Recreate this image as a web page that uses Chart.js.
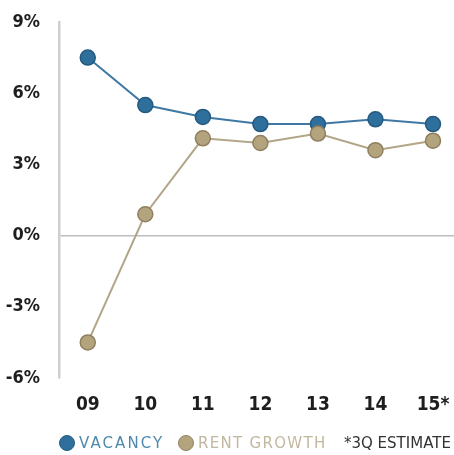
<!DOCTYPE html>
<html>
<head>
<meta charset="utf-8">
<script src="https://cdn.jsdelivr.net/npm/chart.js@4.4.1/dist/chart.umd.min.js"></script>
<style>
  html, body { margin: 0; padding: 0; background: #ffffff; }
  #wrap { position: relative; width: 454px; height: 455px; }
  #chart { position: absolute; left: 0; top: 0; }
  #legend {
    position: absolute; left: 0; top: 433px; width: 454px; height: 20px;
    font-family: "DejaVu Sans", sans-serif; font-size: 15px; white-space: nowrap;
  }
  .item { position: absolute; top: 0; line-height: 20px; }
  .dot {
    position: absolute; top: 2px; width: 16px; height: 16px; border-radius: 50%;
    box-sizing: border-box; border: 1.5px solid;
  }
</style>
</head>
<body>
<div id="wrap">
  <canvas id="chart" width="454" height="455"></canvas>
  <div id="legend">
    <span class="dot" style="left:59px;background:#2f6f9c;border-color:#245a80"></span>
    <span class="item" style="left:79px;color:#4f8aae;letter-spacing:2.1px">VACANCY</span>
    <span class="dot" style="left:178px;background:#b4a47e;border-color:#8f7f5e"></span>
    <span class="item" style="left:198px;color:#c2b79f;letter-spacing:1.3px">RENT GROWTH</span>
    <span class="item" style="left:344px;color:#333333;letter-spacing:0px">*3Q ESTIMATE</span>
  </div>
</div>
<script>
// Years on the x axis (2015 is a third-quarter estimate)
const categories = ['09', '10', '11', '12', '13', '14', '15*'];
// Vacancy rate, %
const vacancy = [7.5, 5.5, 5.0, 4.7, 4.7, 4.9, 4.7];
// Rent growth, %
const rentGrowth = [-4.5, 0.9, 4.1, 3.9, 4.3, 3.6, 4.0];
// Y axis tick values, %
const yTicks = [-6, -3, 0, 3, 6, 9];

const toPoints = arr => arr.map((v, i) => ({ x: i, y: v }));
const tickFont = '"DejaVu Sans Condensed", "Liberation Sans", sans-serif';

new Chart(document.getElementById('chart'), {
  type: 'line',
  data: {
    datasets: [
      {
        label: 'RENT GROWTH',
        data: toPoints(rentGrowth),
        order: 0,
        borderColor: '#b3a587',
        borderWidth: 2,
        pointRadius: 7.5,
        pointBackgroundColor: '#b4a47e',
        pointBorderColor: '#8f7f5e',
        pointBorderWidth: 1.5,
        tension: 0
      },
      {
        label: 'VACANCY',
        data: toPoints(vacancy),
        order: 1,
        borderColor: '#3f78a3',
        borderWidth: 2,
        pointRadius: 7.5,
        pointBackgroundColor: '#2f6f9c',
        pointBorderColor: '#245a80',
        pointBorderWidth: 1.5,
        tension: 0
      }
    ]
  },
  options: {
    responsive: false,
    animation: false,
    layout: { autoPadding: false, padding: { top: 22, right: 0, bottom: 32, left: 0 } },
    plugins: { legend: { display: false }, tooltip: { enabled: false } },
    scales: {
      x: {
        type: 'linear',
        min: -0.5,
        max: 6.365,
        grid: { display: false, drawTicks: false },
        border: { display: false },
        afterFit: s => { s.height = 45; s.paddingLeft = 0; s.paddingRight = 0; },
        afterBuildTicks: s => { s.ticks = categories.map((c, i) => ({ value: i })); },
        ticks: {
          padding: 16,
          autoSkip: false,
          maxRotation: 0,
          color: '#1e1e1e',
          font: { family: tickFont, size: 19, weight: 'bold' },
          callback: v => categories[v] !== undefined ? categories[v] : ''
        }
      },
      y: {
        min: -6,
        max: 9,
        afterFit: s => { s.width = 59; s.paddingTop = 0; s.paddingBottom = 0; },
        afterBuildTicks: s => { s.ticks = yTicks.map(v => ({ value: v })); },
        grid: {
          drawTicks: false,
          color: ctx => ctx.tick && ctx.tick.value === 0 ? '#bdbdbd' : 'rgba(0,0,0,0)',
          lineWidth: 1.5
        },
        border: { display: true, color: '#cfcfcf', width: 2.5 },
        ticks: {
          padding: 19,
          color: '#1e1e1e',
          font: { family: tickFont, size: 18, weight: 'bold' },
          callback: v => v + '%'
        }
      }
    }
  }
});
</script>
</body>
</html>
